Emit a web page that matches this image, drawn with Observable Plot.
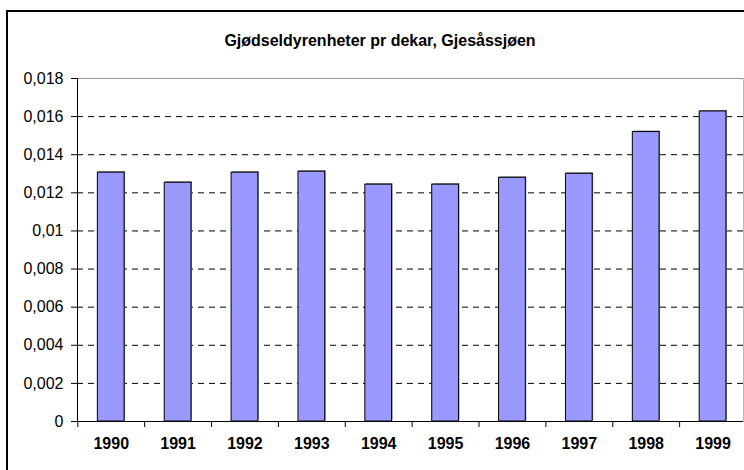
<!DOCTYPE html>
<html>
<head>
<meta charset="utf-8">
<script src="https://cdn.jsdelivr.net/npm/d3@7"></script>
<script src="https://cdn.jsdelivr.net/npm/@observablehq/plot@0.6"></script>
<style>
  html, body { margin: 0; padding: 0; background: #fff; }
  #wrap { position: relative; width: 744px; height: 470px; overflow: hidden; background: #fff; }
  #border { position: absolute; left: 6px; top: 10px; width: 800px; height: 520px; border: 2px solid #000; box-sizing: border-box; }
  #title { position: absolute; left: 0; top: 31px; width: 760px; text-align: center; font: bold 16px "Liberation Sans", Arial, sans-serif; line-height: 20px; color: #000; }
  #chart { position: absolute; left: 0; top: 0; }
</style>
</head>
<body>
<div id="wrap">
  <div id="border"></div>
  <div id="title">Gjødseldyrenheter pr dekar, Gjesåssjøen</div>
  <div id="chart"></div>
</div>
<script>
const years = ["1990","1991","1992","1993","1994","1995","1996","1997","1998","1999"];
const values = [0.01306, 0.01253, 0.01306, 0.01311, 0.01243, 0.01243, 0.01279, 0.0130, 0.01519, 0.01627];
const yTicks = [0, 0.002, 0.004, 0.006, 0.008, 0.01, 0.012, 0.014, 0.016, 0.018];
const gridTicks = [0.002, 0.004, 0.006, 0.008, 0.01, 0.012, 0.014, 0.016];

const data = years.map((y, i) => ({year: y, value: values[i]}));
const fmt = d => String(+d.toFixed(3)).replace(".", ",");
const left = 77.3, right = 746;
const step = (right - left) / years.length;

const plot = Plot.plot({
  width: 744,
  height: 470,
  marginTop: 78,
  marginBottom: 49,
  marginLeft: 77,
  marginRight: 1,
  style: {fontFamily: "'Liberation Sans', Arial, sans-serif", fontSize: "16px", color: "#000", background: "transparent"},
  x: {domain: years, range: [left, right], paddingInner: 0.6, paddingOuter: 0.3, align: 0.5, round: false},
  y: {domain: [0, 0.018]},
  marks: [
    Plot.ruleY(gridTicks, {stroke: "#000", strokeDasharray: "6,5", strokeWidth: 1}),
    Plot.frame({anchor: "top", stroke: "#999"}),
    Plot.frame({anchor: "right", stroke: "#bbb"}),
    Plot.rectY(data, {x: "year", y: "value", fill: "#888", dx: 1, dy: -1}),
    Plot.barY(data, {x: "year", y: "value", fill: "#9999FF", stroke: "#000", strokeWidth: 1}),
    Plot.axisY({ticks: yTicks, tickFormat: fmt, tickSize: 6, tickPadding: 8, label: null, fontSize: 16}),
    Plot.axisX({tickSize: 6, tickFormat: () => "", dx: -step / 2, label: null}),
    Plot.axisX({tickSize: 0, tickPadding: 16, label: null, fontWeight: "bold", fontSize: 16}),
    Plot.frame({anchor: "left", stroke: "#000"}),
    Plot.ruleY([0], {stroke: "#000"})
  ]
});
document.getElementById("chart").appendChild(plot);
</script>
</body>
</html>
